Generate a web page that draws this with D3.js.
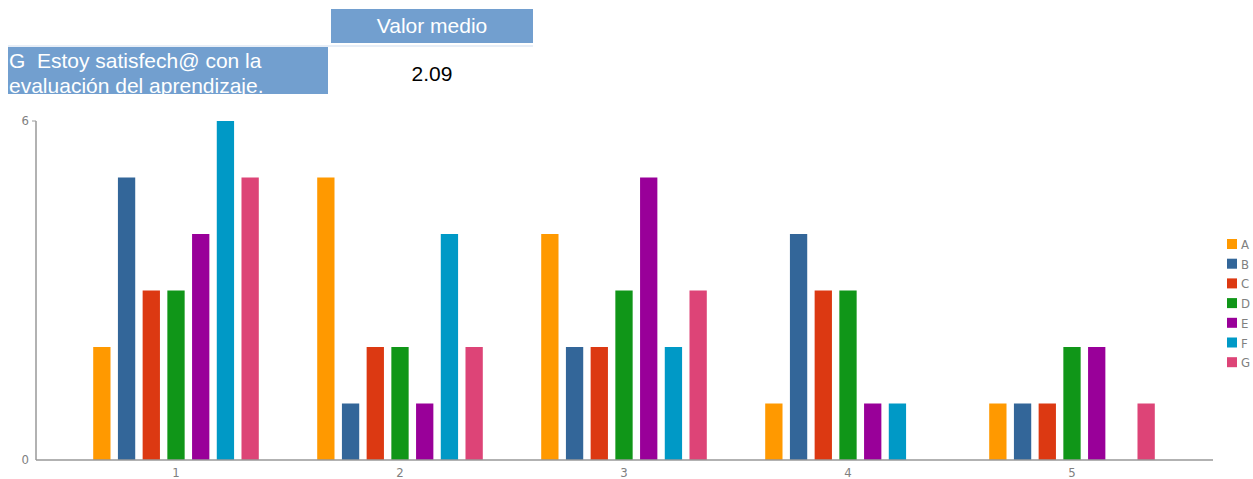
<html lang='es'>
    <head>
        <meta charset="utf-8">
        <script src="https://d3js.org/d3.v7.min.js" charset="utf-8"></script>
        <style>
          body { margin: 0; background: white; }
          .hdr { font-family: "Liberation Sans", Arial, sans-serif; font-size: 21px; white-space: pre; }
          .axis-label { font-family: "Liberation Sans Narrow", "DejaVu Sans Condensed", sans-serif; font-size: 13px; fill: #808080; }
        </style>
    </head>
    <body>
        <script>
            // data
            var categories = ["1", "2", "3", "4", "5"]
            var series = ["A", "B", "C", "D", "E", "F", "G"]
            var colors = ["#ff9900", "#336699", "#dc3912", "#109618", "#990099", "#0099c6", "#dd4477"]
            var valuesA = [2, 5, 4, 1, 1]
            var valuesB = [5, 1, 2, 4, 1]
            var valuesC = [3, 2, 2, 3, 1]
            var valuesD = [3, 2, 3, 3, 2]
            var valuesE = [4, 1, 5, 1, 2]
            var valuesF = [6, 4, 2, 1, 0]
            var valuesG = [5, 2, 3, 0, 1]
            var yTicks = [0, 6]
            var questionLines = ["G  Estoy satisfech@ con la", "evaluación del aprendizaje."]
            var headerLabel = "Valor medio"
            var meanValue = "2.09"

            var allValues = [valuesA, valuesB, valuesC, valuesD, valuesE, valuesF, valuesG]

            var width = 1253
            var height = 479

            var svg = d3.select("body")
                        .append("svg")
                        .attr("width", width)
                        .attr("height", height)

            // header table
            var boxBlue = "#729fcf"
            svg.append("rect")
               .attr("x", 331).attr("y", 9).attr("width", 202).attr("height", 34)
               .attr("fill", boxBlue)
            svg.append("text")
               .attr("class", "hdr")
               .attr("x", 432).attr("y", 33)
               .attr("text-anchor", "middle")
               .attr("fill", "white")
               .text(headerLabel)
            svg.append("line")
               .attr("x1", 8).attr("x2", 533).attr("y1", 46).attr("y2", 46)
               .attr("stroke", "#dfe8f4").attr("stroke-width", 1.5)

            svg.append("clipPath").attr("id", "qclip")
               .append("rect").attr("x", 8).attr("y", 47).attr("width", 320).attr("height", 47)
            svg.append("rect")
               .attr("x", 8).attr("y", 47).attr("width", 320).attr("height", 47)
               .attr("fill", boxBlue)
            svg.append("g").attr("clip-path", "url(#qclip)")
               .selectAll("text")
               .data(questionLines)
               .enter().append("text")
               .attr("class", "hdr")
               .attr("x", 9)
               .attr("y", function(d, i) { return 68 + i * 25 })
               .attr("fill", "white")
               .text(function(d) { return d })
            svg.append("text")
               .attr("class", "hdr")
               .attr("x", 432).attr("y", 81)
               .attr("text-anchor", "middle")
               .attr("fill", "black")
               .text(meanValue)

            // scales
            var x0 = d3.scaleBand().domain(categories).range([64, 1184])
            var x1 = d3.scaleBand().domain(series)
                .range([x0.bandwidth() / 2 - 86.5, x0.bandwidth() / 2 + 86.5])
                .paddingInner(0.3).paddingOuter(0.15)
            var y = d3.scaleLinear().domain([0, 6]).range([460, 121])
            var color = d3.scaleOrdinal().domain(series).range(colors)

            // bars
            var groups = svg.selectAll(".grp")
                .data(categories)
                .enter().append("g")
                .attr("class", "grp")
                .attr("transform", function(d) { return "translate(" + x0(d) + ",0)" })

            groups.selectAll("rect")
                .data(function(c, ci) {
                    return series.map(function(s, si) { return { s: s, v: allValues[si][ci] } })
                })
                .enter().append("rect")
                .attr("x", function(d) { return x1(d.s) })
                .attr("width", x1.bandwidth())
                .attr("y", function(d) { return y(d.v) })
                .attr("height", function(d) { return y(0) - y(d.v) })
                .attr("fill", function(d) { return color(d.s) })
                .attr("opacity", function(d) { return d.v > 0 ? 1 : 0 })

            // axes
            svg.append("line")
               .attr("x1", 36).attr("x2", 1213).attr("y1", y(0)).attr("y2", y(0))
               .attr("stroke", "#999").attr("stroke-width", 1.5)
            svg.append("line")
               .attr("x1", 36).attr("x2", 36).attr("y1", y(6)).attr("y2", y(0))
               .attr("stroke", "#999").attr("stroke-width", 1.5)
            svg.append("line")
               .attr("x1", 32).attr("x2", 36).attr("y1", y(6)).attr("y2", y(6))
               .attr("stroke", "#999").attr("stroke-width", 1)

            svg.selectAll(".ytick")
               .data(yTicks)
               .enter().append("text")
               .attr("class", "axis-label ytick")
               .attr("x", 29)
               .attr("y", function(d) { return y(d) + 4 })
               .attr("text-anchor", "end")
               .text(function(d) { return d })

            svg.selectAll(".xtick")
               .data(categories)
               .enter().append("text")
               .attr("class", "axis-label xtick")
               .attr("x", function(d) { return x0(d) + x0.bandwidth() / 2 })
               .attr("y", 477)
               .attr("text-anchor", "middle")
               .text(function(d) { return d })

            // legend
            var legend = svg.selectAll(".legend")
                .data(series)
                .enter().append("g")
                .attr("class", "legend")
                .attr("transform", function(d, i) { return "translate(1227," + (239 + i * 19.7) + ")" })
            legend.append("rect")
                .attr("width", 10).attr("height", 10)
                .attr("fill", function(d) { return color(d) })
            legend.append("text")
                .attr("class", "axis-label")
                .attr("x", 14).attr("y", 10)
                .text(function(d) { return d })
        </script>
    </body>
</html>
